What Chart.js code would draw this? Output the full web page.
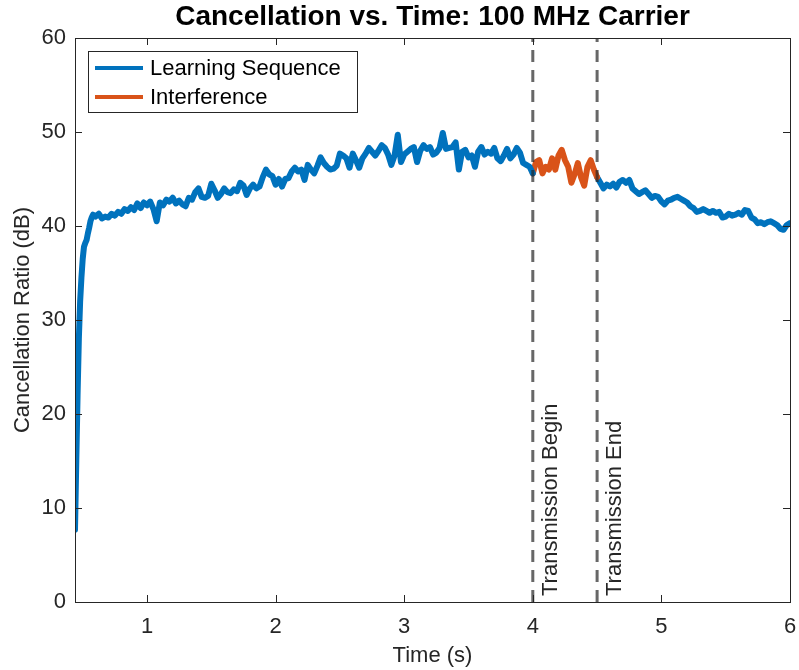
<!DOCTYPE html>
<html>
<head>
<meta charset="utf-8">
<title>Cancellation vs. Time</title>
<script src="https://cdn.jsdelivr.net/npm/chart.js@4.4.1/dist/chart.umd.min.js"></script>
<style>
  body { margin: 0; background: #fff; }
  #wrap { width: 799px; height: 670px; }
</style>
</head>
<body>
<div id="wrap"><canvas id="cancelChart" width="799" height="670"></canvas></div>
<script>
// Convergence of the canceller: fast rise at start-up
const riseTimes = [0.44, 0.45, 0.46, 0.47, 0.48, 0.49, 0.50, 0.51, 0.52, 0.53, 0.54, 0.55, 0.56, 0.57, 0.58];
const riseValues = [7.7, 15.0, 22.0, 28.0, 32.0, 34.5, 36.5, 37.8, 38.2, 38.5, 39.2, 39.8, 40.5, 40.9, 41.2];

// after start-up the samples are every 25 ms
const sampleStep = 0.025;

// learning sequence, 0.600 s .. 4.000 s
const learnStart = 0.6;
const learnValues = [
  41.0, 41.3, 40.8, 41.0, 40.9, 41.3, 41.1, 41.5,
  41.3, 41.8, 41.6, 42.0, 41.7, 42.4, 41.9, 42.5,
  42.2, 42.6, 41.8, 40.5, 42.5, 42.2, 42.8, 42.6,
  43.0, 42.4, 42.7, 42.3, 42.1, 43.0, 42.8, 43.6,
  44.0, 43.1, 43.0, 43.2, 44.5, 43.8, 43.0, 43.4,
  44.0, 43.6, 43.5, 43.9, 43.7, 44.6, 44.3, 43.3,
  44.0, 44.4, 44.0, 44.2, 45.2, 46.0, 45.5, 45.3,
  44.4, 45.0, 44.2, 45.0, 45.1, 45.8, 46.2, 45.8,
  46.0, 44.9, 46.5, 46.0, 45.6, 46.4, 47.3, 46.7,
  46.3, 46.0, 46.1, 46.4, 47.7, 47.5, 47.2, 46.2,
  47.7, 47.0, 46.2, 47.2, 47.7, 48.3, 47.9, 47.5,
  48.0, 48.6, 48.3, 47.6, 46.5, 47.5, 49.7, 46.8,
  47.6, 47.9, 48.2, 48.4, 46.8, 48.0, 48.6, 48.2,
  48.4, 47.6, 47.8, 48.3, 49.9, 48.2, 48.3, 48.4,
  48.9, 46.0, 47.9, 48.1, 47.3, 47.5, 46.3, 47.9,
  48.4, 47.6, 47.9, 47.7, 48.3, 47.2, 46.9, 47.5,
  48.2, 47.2, 47.6, 48.3, 47.8, 46.7, 46.5, 46.3,
  45.6
];

// interference burst, 4.000 s .. 4.500 s
const interfStart = 4.0;
const interfValues = [
  45.6, 46.8, 47.0, 45.6, 46.3, 46.0, 47.2, 46.0,
  47.5, 48.1, 47.0, 46.3, 44.6, 45.5, 46.7, 45.2,
  44.3, 46.3, 47.0, 46.0, 45.2
];

// learning sequence again, 4.500 s .. 6.000 s
const resumeStart = 4.5;
const resumeValues = [
  45.2, 44.6, 44.0, 44.4, 44.2, 44.5, 44.1, 44.7,
  44.9, 44.6, 44.9, 44.0, 43.7, 43.4, 43.6, 43.8,
  43.4, 43.0, 43.2, 43.1, 42.6, 42.3, 42.7, 42.8,
  43.0, 43.1, 42.9, 42.7, 42.5, 42.1, 41.9, 41.5,
  41.6, 41.8, 41.6, 41.4, 41.6, 41.4, 41.5, 40.9,
  41.0, 41.3, 41.1, 41.2, 41.4, 41.2, 41.7, 41.6,
  40.9, 40.7, 40.3, 40.4, 40.2, 40.4, 40.5, 40.3,
  40.1, 39.7, 39.6, 40.1, 40.3
];

const markerTimes = [4.0, 4.5];
const markerLabels = ["Transmission Begin", "Transmission End"];

const xTicks = [1, 2, 3, 4, 5, 6];
const yTicks = [0, 10, 20, 30, 40, 50, 60];

const BLUE = "#0072BD";
const ORANGE = "#D95319";
const INK = "#262626";
const FONT = "'Liberation Sans', Arial, sans-serif";

function toPoints(start, values) {
  return values.map((v, i) => ({ x: +(start + i * sampleStep).toFixed(3), y: v }));
}

const learnPoints = riseTimes
  .map((t, i) => ({ x: t, y: riseValues[i] }))
  .concat(toPoints(learnStart, learnValues));

const lineStyle = {
  borderWidth: 6,
  borderJoinStyle: "round",
  borderCapStyle: "round",
  pointRadius: 0,
  tension: 0,
  fill: false,
  order: 1,
};

// dashed vertical markers, drawn above the traces
const markerSets = markerTimes.map((t) => ({
  data: [{ x: t, y: yTicks[0] }, { x: t, y: yTicks[yTicks.length - 1] }],
  borderColor: "rgba(38, 38, 38, 0.7)",
  borderWidth: 3,
  borderDash: [12, 8],
  pointRadius: 0,
  order: 0,
}));

// box, inward ticks, title, legend and marker text
const decorations = {
  id: "decorations",
  afterDraw(chart) {
    const { ctx, chartArea: a, scales } = chart;
    const xs = scales.x;
    const ys = scales.y;
    const tick = 7;
    ctx.save();
    ctx.strokeStyle = INK;
    ctx.lineWidth = 1;
    ctx.strokeRect(Math.round(a.left) + 0.5, Math.round(a.top) + 0.5,
      Math.round(a.right - a.left), Math.round(a.bottom - a.top));
    ctx.beginPath();
    xTicks.forEach((v) => {
      const px = Math.round(xs.getPixelForValue(v)) + 0.5;
      ctx.moveTo(px, a.bottom); ctx.lineTo(px, a.bottom - tick);
      ctx.moveTo(px, a.top); ctx.lineTo(px, a.top + tick);
    });
    yTicks.forEach((v) => {
      const py = Math.round(ys.getPixelForValue(v)) + 0.5;
      ctx.moveTo(a.left, py); ctx.lineTo(a.left + tick, py);
      ctx.moveTo(a.right, py); ctx.lineTo(a.right - tick, py);
    });
    ctx.stroke();

    // title over the plot box
    ctx.fillStyle = "#000";
    ctx.font = "bold 28px " + FONT;
    ctx.textAlign = "center";
    ctx.textBaseline = "middle";
    ctx.fillText("Cancellation vs. Time: 100 MHz Carrier", (a.left + a.right) / 2, 17);

    // marker labels, rotated, reading bottom-up
    ctx.fillStyle = INK;
    ctx.font = "22px " + FONT;
    markerTimes.forEach((t, i) => {
      ctx.save();
      ctx.translate(xs.getPixelForValue(t) + 18, a.bottom - 6);
      ctx.rotate(-Math.PI / 2);
      ctx.textAlign = "left";
      ctx.textBaseline = "middle";
      ctx.fillText(markerLabels[i], 0, 0);
      ctx.restore();
    });

    // legend box
    const lx = 88, ly = 51, lw = 269, lh = 61;
    ctx.fillStyle = "#fff";
    ctx.fillRect(lx, ly, lw, lh);
    ctx.strokeStyle = INK;
    ctx.lineWidth = 1;
    ctx.strokeRect(lx + 0.5, ly + 0.5, lw, lh);
    const rows = [["Learning Sequence", BLUE], ["Interference", ORANGE]];
    rows.forEach(([label, color], i) => {
      const cy = ly + 17 + i * 29;
      ctx.strokeStyle = color;
      ctx.lineWidth = 4;
      ctx.beginPath();
      ctx.moveTo(95, cy); ctx.lineTo(143, cy);
      ctx.stroke();
      ctx.fillStyle = "#000";
      ctx.font = "22px " + FONT;
      ctx.textAlign = "left";
      ctx.textBaseline = "middle";
      ctx.fillText(label, 150, cy + 1);
    });
    ctx.restore();
  },
};

new Chart(document.getElementById("cancelChart"), {
  type: "line",
  data: {
    datasets: [
      { label: "Learning Sequence", data: learnPoints, borderColor: BLUE, ...lineStyle },
      { label: "Interference", data: toPoints(interfStart, interfValues), borderColor: ORANGE, ...lineStyle },
      { label: "Learning Sequence (resumed)", data: toPoints(resumeStart, resumeValues), borderColor: BLUE, ...lineStyle },
      ...markerSets,
    ],
  },
  options: {
    responsive: false,
    animation: false,
    devicePixelRatio: 1,
    layout: { padding: { top: 38, right: 9, left: 0, bottom: 0 } },
    plugins: {
      legend: { display: false },
      title: { display: false },
      tooltip: { enabled: false },
    },
    scales: {
      x: {
        type: "linear",
        min: 0.44,
        max: 6,
        grid: { display: false, drawTicks: false },
        border: { display: false },
        afterBuildTicks: (s) => { s.ticks = xTicks.map((v) => ({ value: v })); },
        afterFit: (s) => { s.height = 68; s.paddingLeft = 0; s.paddingRight = 0; },
        ticks: { color: INK, padding: 12, font: { family: FONT, size: 22 }, includeBounds: false },
        title: { display: true, text: "Time (s)", color: INK, font: { family: FONT, size: 22 }, padding: { top: 4, bottom: 1 } },
      },
      y: {
        min: 0,
        max: 60,
        grid: { display: false, drawTicks: false },
        border: { display: false },
        afterBuildTicks: (s) => { s.ticks = yTicks.map((v) => ({ value: v })); },
        afterFit: (s) => { s.width = 75; s.paddingTop = 0; s.paddingBottom = 0; },
        ticks: { color: INK, padding: 9, font: { family: FONT, size: 22 } },
        title: { display: true, text: "Cancellation Ratio (dB)", color: INK, font: { family: FONT, size: 22 }, padding: { top: 10, bottom: 4 } },
      },
    },
  },
  plugins: [decorations],
});
</script>
</body>
</html>
